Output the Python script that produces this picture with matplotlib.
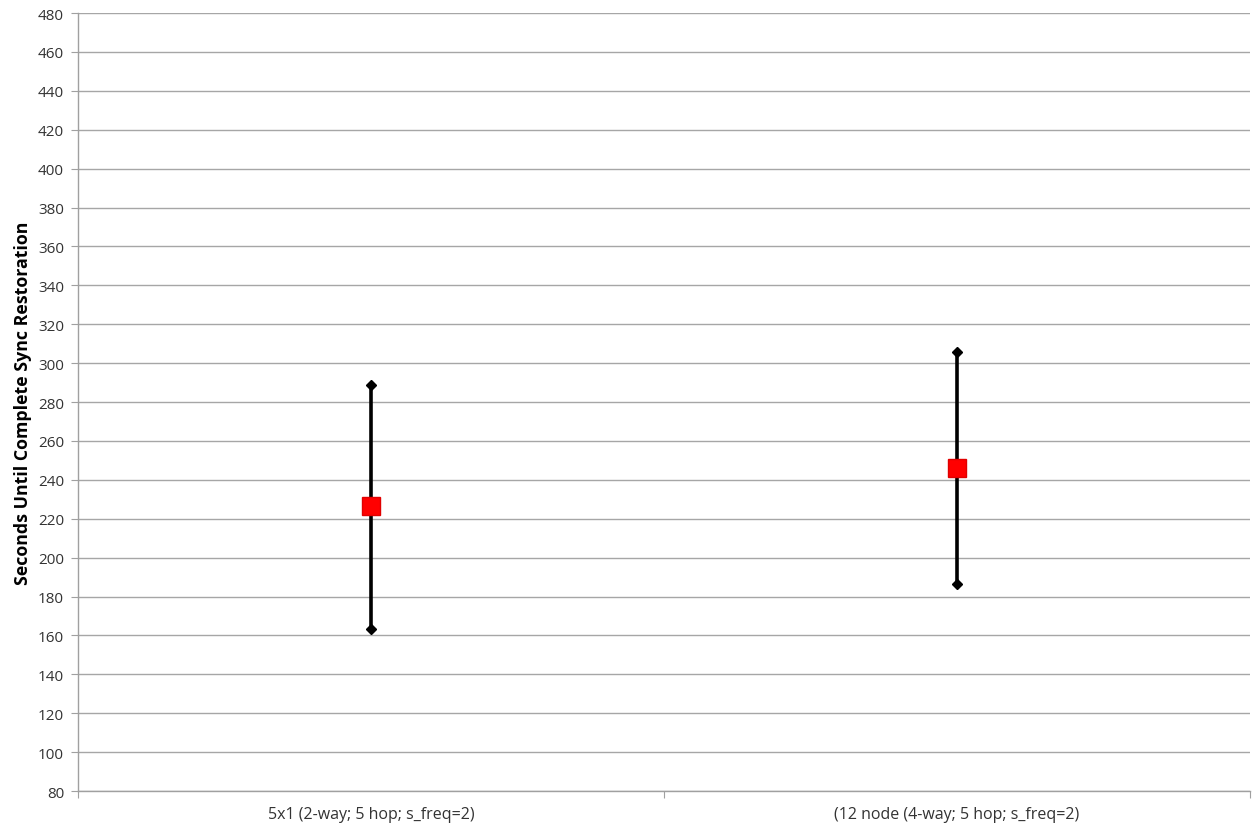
import matplotlib
matplotlib.use("Agg")
import matplotlib.pyplot as plt

categories = ["5x1 (2-way; 5 hop; s_freq=2)", "(12 node (4-way; 5 hop; s_freq=2)"]
means = [226.5, 246.0]
highs = [288.5, 305.5]
lows = [163.5, 186.5]
yticks = list(range(80, 481, 20))

plt.rcParams['font.family'] = ['Open Sans', 'DejaVu Sans']

fig = plt.figure(figsize=(12.52, 8.29), dpi=100)
ax = fig.add_axes([0.0623, 0.0446, 0.936, 0.9385])

x = [0.5, 1.5]
for xi, lo, hi in zip(x, lows, highs):
    ax.plot([xi, xi], [lo, hi], color="black", lw=2.6, zorder=3,
            marker="D", markersize=5, markerfacecolor="black", markeredgecolor="black")
ax.plot(x, means, linestyle="none", marker="s", markersize=13,
        color="#ff0000", markeredgecolor="#e00000", zorder=4)

ax.set_xlim(0, 2)
ax.set_ylim(80, 480)
ax.set_yticks(yticks)
ax.set_yticklabels([str(v) for v in yticks], fontsize=11, color="#333333")
ax.set_xticks([0, 1, 2])
ax.set_xticklabels([])
ax.set_xticks(x, minor=True)
ax.set_xticklabels(categories, minor=True, fontsize=11.5, color="#333333")
ax.tick_params(axis="x", which="minor", length=0, pad=11)
ax.tick_params(axis="x", which="major", length=5, color="#a0a0a0", direction="out")
ax.tick_params(axis="y", length=5, color="#a0a0a0", direction="out", pad=5)

ax.yaxis.grid(True, color="#a6a6a6", lw=1)
ax.set_axisbelow(True)
for s in ["top", "right"]:
    ax.spines[s].set_visible(False)
for s in ["left", "bottom"]:
    ax.spines[s].set_color("#a0a0a0")
    ax.spines[s].set_linewidth(1)

ax.set_ylabel("Seconds Until Complete Sync Restoration", fontsize=12.8,
              fontweight="bold", labelpad=4)

fig.savefig("out.png", dpi=100)
